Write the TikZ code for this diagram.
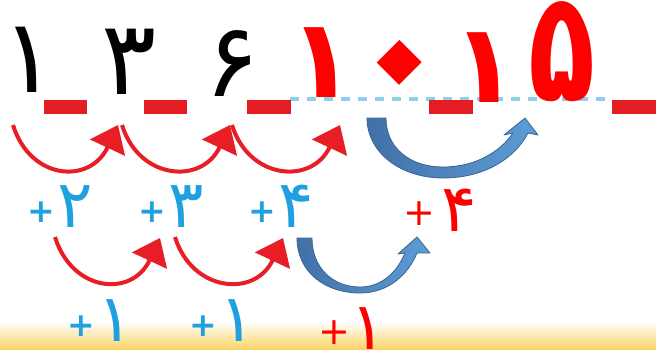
\documentclass[tikz,border=0pt]{standalone}
\usepackage{fontspec}
\usetikzlibrary{arrows.meta}
\newfontfamily\fa{DejaVu Sans}
\definecolor{digred}{RGB}{255,0,0}
\definecolor{arrred}{RGB}{232,30,38}
\definecolor{dashred}{RGB}{228,28,36}
\definecolor{lblue}{RGB}{30,160,225}
\definecolor{dotblue}{RGB}{140,208,236}
\definecolor{bdark}{RGB}{66,112,168}
\definecolor{blight}{RGB}{93,157,215}
\definecolor{bline}{RGB}{58,100,148}
\definecolor{gold}{RGB}{250,212,100}
\newcommand\bplus{\raisebox{5pt}{\fontsize{33}{33}\selectfont\bfseries +}}
\newcommand\rplus[1]{\raisebox{#1}{\fontsize{38}{38}\selectfont +}}
\begin{document}
\begin{tikzpicture}[x=1pt,y=-1pt,
  bigdigit/.style={inner sep=0pt, anchor=south, font=\fa\fontsize{103}{103}\selectfont},
  reddigit/.style={bigdigit, text=digred, font=\fa\bfseries\fontsize{110}{110}\selectfont},
  dashbar/.style={fill=dashred, draw=none},
  redarr/.style={draw=arrred, line width=4pt, -{Triangle[length=25pt,width=38pt]}},
  bluelbl/.style={inner sep=0pt, anchor=south, text=lblue, font=\fa\fontsize{66}{66}\selectfont},
  redlbl/.style={inner sep=0pt, text=digred, font=\fa\fontsize{66}{66}\selectfont},
  bluearr/.style={left color=bdark, right color=blight, draw=bline, line width=0.8pt, line join=round}
]
\useasboundingbox (0,0) rectangle (656,349);
\shade[top color=white, bottom color=gold] (0,322) rectangle (656,349);

% dotted guide line
\draw[dotblue, line width=4pt, dash pattern=on 9pt off 8pt] (290,99) -- (612,99);

% red dashes
\fill[dashbar] (44,100) rectangle (87,114);
\fill[dashbar] (144,100) rectangle (187,114);
\fill[dashbar] (247,100) rectangle (291,114);
\fill[dashbar] (429,100) rectangle (473,114);
\fill[dashbar] (612,100) rectangle (656,114);

% digits
\node[bigdigit] (d1) at (29,93) {۱};
\node[bigdigit] (d3) at (129,95) {۳};
\node[bigdigit] (d6) at (232,97) {۶};
\node[reddigit] (d10a) at (322,98) {۱};
\node[reddigit, anchor=center, rotate=45, font=\fa\bfseries\fontsize{185}{185}\selectfont] (d10b) at (412,76) {۰};
\node[reddigit] (d15a) at (485,103) {۱};
\node[reddigit] (d15b) at (562,102) {\scalebox{1}[1.4]{۵}};

% red arrows, row 1
\coordinate (r1s) at (13,125);  \coordinate (r1e) at (118,125);
\coordinate (r2s) at (122,125); \coordinate (r2e) at (230,125);
\coordinate (r3s) at (232,125); \coordinate (r3e) at (340,125);
\draw[redarr] (r1s) .. controls +(17,55) and +(-28,60) .. (r1e);
\draw[redarr] (r2s) .. controls +(17,55) and +(-28,60) .. (r2e);
\draw[redarr] (r3s) .. controls +(17,55) and +(-28,60) .. (r3e);

% red arrows, row 2
\coordinate (s1s) at (55,237);  \coordinate (s1e) at (160,238);
\coordinate (s2s) at (175,237); \coordinate (s2e) at (283,238);
\draw[redarr] (s1s) .. controls +(17,55) and +(-28,60) .. (s1e);
\draw[redarr] (s2s) .. controls +(17,55) and +(-28,60) .. (s2e);

% blue curved block arrows
\path[bluearr] (367,118) .. controls (367,152) and (400,178) .. (443,178)
  .. controls (485,178) and (515,158) .. (528,133) -- (538,135) -- (525,118)
  -- (504,135) -- (513,133) .. controls (500,152) and (475,167) .. (443,167)
  .. controls (410,167) and (386,148) .. (386,118) -- cycle;
\path[bluearr] (297,238) .. controls (297,272) and (325,293) .. (360,293)
  .. controls (388,293) and (408,275) .. (417,253) -- (430,253) -- (417,237)
  -- (398,254) -- (405,253) .. controls (397,272) and (382,287) .. (360,287)
  .. controls (333,287) and (312,268) .. (312,238) -- cycle;

% blue labels
\node[bluelbl] (p2) at (60,228) {\bplus\hspace{2pt}۲};
\node[bluelbl] (p3) at (171,228) {\bplus\hspace{2pt}۳};
\node[bluelbl] (p4) at (281,228) {\bplus\hspace{2pt}۴};
\node[bluelbl] (q1) at (100,342) {\bplus\hspace{2pt}۱};
\node[bluelbl] (q2) at (222,342) {\bplus\hspace{2pt}۱};

% red labels
\node[redlbl, anchor=south] (r4) at (440,232) {\rplus{6pt}\hspace{6pt}۴};
\node[redlbl, anchor=north] (r1) at (352,307) {\rplus{5pt}\hspace{0pt}۱};
\end{tikzpicture}
\end{document}
